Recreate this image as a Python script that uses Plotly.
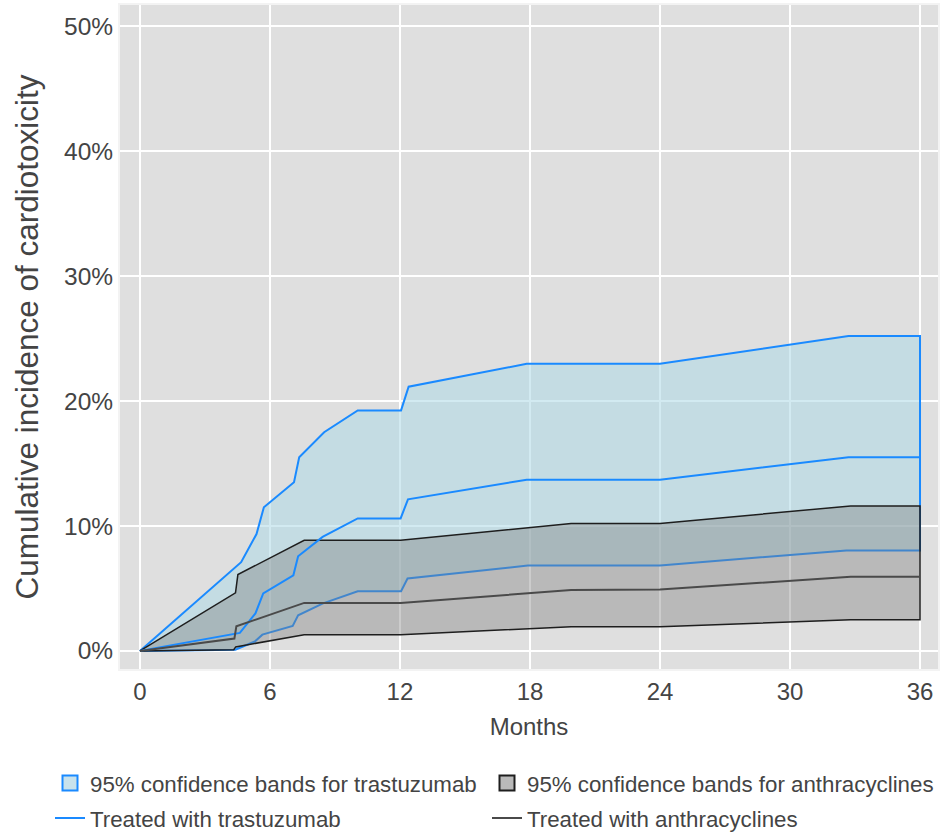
import plotly.graph_objects as go

# ---- data (months, cumulative incidence in %) ----
tras_upper_m = [0, 4.67, 5.38, 5.72, 7.11, 7.35, 8.5, 10.05, 12.05, 12.4, 17.85, 24.0, 32.7, 36]
tras_upper_v = [0, 7.1, 9.35, 11.5, 13.5, 15.5, 17.5, 19.25, 19.25, 21.15, 22.98, 22.98, 25.2, 25.2]

tras_mid_m = [0, 4.61, 5.33, 5.69, 7.08, 7.3, 8.43, 10.05, 12.03, 12.37, 17.85, 24.0, 32.7, 36]
tras_mid_v = [0, 1.44, 3.0, 4.6, 6.05, 7.57, 9.12, 10.6, 10.6, 12.13, 13.7, 13.7, 15.5, 15.5]

tras_low_m = [0, 4.4, 5.3, 5.65, 7.05, 7.3, 8.45, 10.05, 12.05, 12.35, 17.9, 24.0, 32.6, 36]
tras_low_v = [0, 0.1, 0.75, 1.3, 2.0, 2.85, 3.8, 4.77, 4.77, 5.8, 6.83, 6.83, 8.04, 8.04]

anth_upper_m = [0, 4.41, 4.52, 7.58, 12.03, 19.9, 24.0, 32.8, 36]
anth_upper_v = [0, 4.64, 6.11, 8.85, 8.85, 10.2, 10.2, 11.6, 11.6]

anth_mid_m = [0, 4.36, 4.45, 7.58, 12.03, 19.9, 24.0, 32.8, 36]
anth_mid_v = [0, 0.99, 1.97, 3.84, 3.84, 4.87, 4.92, 5.93, 5.93]

anth_low_m = [0, 4.33, 4.42, 7.58, 12.03, 19.9, 24.0, 32.8, 36]
anth_low_v = [0, 0.1, 0.32, 1.3, 1.3, 1.93, 1.93, 2.5, 2.5]

x_ticks = [0, 6, 12, 18, 24, 30, 36]
y_ticks = [0, 10, 20, 30, 40, 50]
y_tick_labels = ["0%", "10%", "20%", "30%", "40%", "50%"]

BLUE = "#1a8aff"
TXT = "#444444"
FONT = "Liberation Sans, Arial, sans-serif"
BAND_T_FILL = "rgba(173,216,230,0.55)"
BAND_A_FILL = "rgba(128,128,128,0.4)"
DARK = "#1e1e1e"

fig = go.Figure()

# band polygons (no legend entries; legend boxes drawn by marker proxies)
fig.add_trace(go.Scatter(
    x=tras_upper_m + tras_low_m[::-1],
    y=tras_upper_v + tras_low_v[::-1],
    fill="toself", fillcolor=BAND_T_FILL,
    line=dict(color=BLUE, width=2),
    mode="lines", showlegend=False, hoverinfo="skip",
))
fig.add_trace(go.Scatter(
    x=anth_upper_m + anth_low_m[::-1],
    y=anth_upper_v + anth_low_v[::-1],
    fill="toself", fillcolor=BAND_A_FILL,
    line=dict(color=DARK, width=1.5),
    mode="lines", showlegend=False, hoverinfo="skip",
))
fig.add_trace(go.Scatter(
    x=tras_mid_m, y=tras_mid_v, mode="lines",
    line=dict(color=BLUE, width=2),
    name="Treated with trastuzumab", legend="legend2",
))
fig.add_trace(go.Scatter(
    x=anth_mid_m, y=anth_mid_v, mode="lines",
    line=dict(color="#4a4a4a", width=2),
    name="Treated with anthracyclines", legend="legend2", legendwidth=414,
))
# legend proxies for the bands
fig.add_trace(go.Scatter(
    x=[None], y=[None], mode="markers",
    marker=dict(symbol="square", size=15, color="rgb(200,226,236)",
                line=dict(color=BLUE, width=2)),
    name="95% confidence bands for trastuzumab", legend="legend",
))
fig.add_trace(go.Scatter(
    x=[None], y=[None], mode="markers",
    marker=dict(symbol="square", size=15, color="rgb(186,186,186)",
                line=dict(color=DARK, width=2)),
    name="95% confidence bands for anthracyclines", legend="legend", legendwidth=414,
))

plot_l, plot_r, plot_t, plot_b = 120, 4, 5, 163
plot_w = 942 - plot_l - plot_r
plot_h = 832 - plot_t - plot_b
leg_x = (50 - plot_l) / plot_w

legend_common = dict(
    orientation="h", x=leg_x, xanchor="left", yanchor="middle",
    font=dict(size=22.3, color=TXT, family=FONT),
    entrywidth=392, entrywidthmode="pixels",
    itemwidth=30, bgcolor="rgba(0,0,0,0)",
)

fig.update_layout(
    width=942, height=832,
    margin=dict(l=plot_l, r=plot_r, t=plot_t, b=plot_b, autoexpand=False),
    paper_bgcolor="white",
    plot_bgcolor="#dfdfdf",
    font=dict(family=FONT, color=TXT, size=18),
    showlegend=True,
    legend=dict(y=(669 - 783) / plot_h, **legend_common),
    legend2=dict(y=(669 - 818) / plot_h, **legend_common),
    xaxis=dict(
        range=[-0.92, 36.83], tickmode="array", tickvals=x_ticks,
        ticktext=[str(t) for t in x_ticks],
        showgrid=True, gridcolor="white", gridwidth=2,
        zeroline=False, showline=True, linecolor="#f3f3f3", linewidth=2, mirror=True,
        ticks="", automargin=False,
        tickfont=dict(size=24, color=TXT),
        title=dict(text="Months", font=dict(size=24, color=TXT), standoff=14),
    ),
    yaxis=dict(
        range=[-1.45, 51.7], tickmode="array", tickvals=y_ticks,
        ticktext=y_tick_labels,
        showgrid=True, gridcolor="white", gridwidth=2,
        zeroline=False, showline=True, linecolor="#f3f3f3", linewidth=2, mirror=True,
        ticks="", automargin=False,
        tickfont=dict(size=24.5, color=TXT),
        title=dict(text="Cumulative incidence of cardiotoxicity",
                   font=dict(size=31.5, color=TXT), standoff=16),
    ),
)

fig.write_html("out.html", config={"displayModeBar": False},
               post_script="document.body.style.margin='0';")
